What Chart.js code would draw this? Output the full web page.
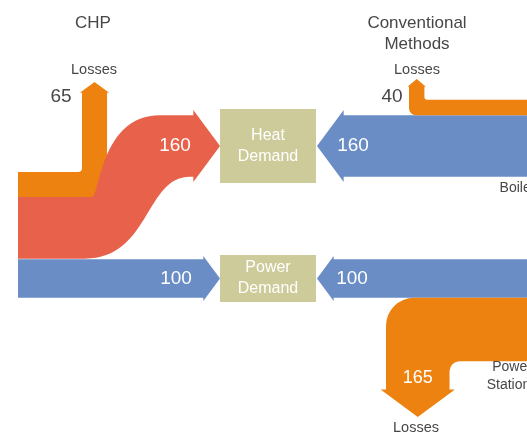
<!DOCTYPE html>
<html>
<head>
<meta charset="utf-8">
<script src="https://cdn.jsdelivr.net/npm/chart.js@4.4.1/dist/chart.umd.min.js"></script>
<style>
    html, body { margin: 0; padding: 0; background: #fff; }
    #wrap { width: 527px; height: 433px; position: relative; }
</style>
</head>
<body>
<div id="wrap"><canvas id="sankey"></canvas></div>
<script>
// Data: flows per source (values as printed)
const chpFlows = ['Losses', 'Heat Demand', 'Power Demand'];
const chpValues = [65, 160, 100];
const boilerFlows = ['Losses', 'Heat Demand'];
const boilerValues = [40, 160];
const stationFlows = ['Power Demand', 'Losses'];
const stationValues = [100, 165];
const demandLabels = [['Heat', 'Demand'], ['Power', 'Demand']];
const sourceTitles = [['CHP'], ['Conventional', 'Methods']];

// Colours
const ORANGE = '#ee8210';
const RED = '#e8614b';
const BLUE = '#6a8dc5';
const KHAKI = '#cdcb99';
const TEXT = '#474747';

const K = 0.385; // band thickness per unit of value
const th = v => v * K;
const head = t => {
    const e = Math.max(1.5, t * 0.085);
    return { e: e, len: (t + 2 * e) * 0.37 };
};

const FONT = '"Liberation Sans", Arial, Helvetica, sans-serif';

function drawSankey(chart) {
    const ctx = chart.ctx;
    const xs = chart.scales.x, ys = chart.scales.y;
    const X = v => xs.getPixelForValue(v);
    const Y = v => ys.getPixelForValue(v);

    function shape(color, build) {
        ctx.beginPath();
        build({
            m: (x, y) => ctx.moveTo(X(x), Y(y)),
            l: (x, y) => ctx.lineTo(X(x), Y(y)),
            c: (a, b, c2, d, x, y) => ctx.bezierCurveTo(X(a), Y(b), X(c2), Y(d), X(x), Y(y)),
            r: (a, b, x, y, rad) => ctx.arcTo(X(a), Y(b), X(x), Y(y), rad)
        });
        ctx.closePath();
        ctx.fillStyle = color;
        ctx.fill();
    }

    function text(lines, x, y, size, color, gap) {
        ctx.fillStyle = color;
        ctx.font = size + 'px ' + FONT;
        ctx.textAlign = 'center';
        ctx.textBaseline = 'middle';
        lines.forEach((s, i) => ctx.fillText(s, X(x), Y(y + i * (gap || 0))));
    }

    const LEFT = xs.min + 18, RIGHT = xs.max;
    const boxX0 = 220, boxX1 = 316;
    const heatMid = 146, powerMid = 278.5;

    // --- CHP side ---
    const chpTop = 172;
    const tLoss = th(chpValues[0]);
    const tHeat = th(chpValues[1]);
    const tPow = th(chpValues[2]);

    // losses (orange, up)
    {
        const y0 = chpTop, y1 = chpTop + tLoss;
        const x0 = 82, x1 = x0 + tLoss;
        const h = head(tLoss), tip = 82, base = tip + h.len;
        shape(ORANGE, p => {
            p.m(LEFT, y0);
            p.r(x0, y0, x0, base, 4);
            p.l(x0, base);
            p.l(x0 - h.e, base);
            p.l((x0 + x1) / 2, tip);
            p.l(x1 + h.e, base);
            p.l(x1, base);
            p.l(x1, y1);
            p.l(LEFT, y1);
        });
        text([String(chpValues[0])], 61, 97, 19, TEXT);
        text(['Losses'], 94, 70, 14.5, TEXT);
    }

    // heat (red S-curve)
    {
        const a0 = chpTop + tLoss, a1 = a0 + tHeat;
        const b0 = heatMid - tHeat / 2, b1 = heatMid + tHeat / 2;
        const h = head(tHeat), tip = boxX0, base = tip - h.len;
        shape(RED, p => {
            p.m(LEFT, a0);
            p.l(92, a0);
            p.c(100, a0, 100, b0, 160, b0);
            p.l(base, b0);
            p.l(base, b0 - h.e);
            p.l(tip, heatMid);
            p.l(base, b1 + h.e);
            p.l(base, b1);
            p.l(190, b1);
            p.c(145, b1, 150, a1, 85, a1);
            p.l(LEFT, a1);
        });
        text([String(chpValues[1])], 175, heatMid, 19, '#ffffff');
    }

    // power (blue, right)
    {
        const y0 = powerMid - tPow / 2, y1 = powerMid + tPow / 2;
        const h = head(tPow), tip = boxX0, base = tip - h.len;
        shape(BLUE, p => {
            p.m(LEFT, y0);
            p.l(base, y0);
            p.l(base, y0 - h.e);
            p.l(tip, powerMid);
            p.l(base, y1 + h.e);
            p.l(base, y1);
            p.l(LEFT, y1);
        });
        text([String(chpValues[2])], 176, powerMid, 19, '#ffffff');
    }

    // --- Conventional side: boilers ---
    const tBLoss = th(boilerValues[0]);
    const tBHeat = th(boilerValues[1]);
    {
        const y0 = heatMid - tBHeat / 2, y1 = heatMid + tBHeat / 2;
        const h = head(tBHeat), tip = boxX1 + 1, base = tip + h.len;
        shape(BLUE, p => {
            p.m(RIGHT, y0);
            p.l(base, y0);
            p.l(base, y0 - h.e);
            p.l(tip, heatMid);
            p.l(base, y1 + h.e);
            p.l(base, y1);
            p.l(RIGHT, y1);
        });
        text([String(boilerValues[1])], 353, heatMid, 19, '#ffffff');
    }
    {
        const y1 = heatMid - tBHeat / 2, y0 = y1 - tBLoss;
        const x0 = 409, x1 = x0 + tBLoss;
        const h = head(tBLoss), tip = 79, base = tip + h.len + 1;
        shape(ORANGE, p => {
            p.m(RIGHT, y0);
            p.r(x1, y0, x1, base, 3);
            p.l(x1, base);
            p.l(x1 + h.e, base);
            p.l((x0 + x1) / 2, tip);
            p.l(x0 - h.e, base);
            p.l(x0, base);
            p.r(x0, y1, RIGHT, y1, 7);
            p.l(RIGHT, y1);
        });
        text([String(boilerValues[0])], 392, 97, 19, TEXT);
        text(['Losses'], 417, 70, 14.5, TEXT);
    }

    // --- Conventional side: power stations ---
    const tSPow = th(stationValues[0]);
    const tSLoss = th(stationValues[1]);
    {
        const y0 = powerMid - tSPow / 2, y1 = powerMid + tSPow / 2;
        const h = head(tSPow), tip = boxX1 + 1, base = tip + h.len;
        shape(BLUE, p => {
            p.m(RIGHT, y0);
            p.l(base, y0);
            p.l(base, y0 - h.e);
            p.l(tip, powerMid);
            p.l(base, y1 + h.e);
            p.l(base, y1);
            p.l(RIGHT, y1);
        });
        text([String(stationValues[0])], 352, powerMid, 19, '#ffffff');
    }
    {
        const y0 = powerMid + tSPow / 2, y1 = y0 + tSLoss;
        const x0 = 386, x1 = x0 + tSLoss;
        const h = head(tSLoss), tip = 417, base = tip - h.len;
        shape(ORANGE, p => {
            p.m(RIGHT, y0);
            p.r(x0, y0, x0, base, 28);
            p.l(x0, base);
            p.l(x0 - h.e, base);
            p.l((x0 + x1) / 2, tip);
            p.l(x1 + h.e, base);
            p.l(x1, base);
            p.r(x1, y1, RIGHT, y1, 10);
            p.l(RIGHT, y1);
        });
        text([String(stationValues[1])], (x0 + x1) / 2, 378, 18, '#ffffff');
        text(['Losses'], 416, 428, 14.5, TEXT);
    }

    // --- demand boxes ---
    [[heatMid, tHeat], [powerMid, tPow]].forEach(([mid, t], i) => {
        const half = t / 2 + head(t).e + 1;
        shape(KHAKI, p => {
            p.m(boxX0, mid - half);
            p.l(boxX1, mid - half);
            p.l(boxX1, mid + half);
            p.l(boxX0, mid + half);
        });
        text(demandLabels[i], (boxX0 + boxX1) / 2, mid - 10.5, 16, '#ffffff', 21);
    });

    // --- titles and source labels ---
    text(sourceTitles[0], 93, 23, 17, TEXT);
    text(sourceTitles[1], 417, 23, 17, TEXT, 21);
    text(['Boilers'], 521, 188, 14, TEXT);
    text(['Power', 'Stations'], 512, 367, 14, TEXT, 18);
}

const ctx = document.getElementById('sankey').getContext('2d');
const sankeyChart = new Chart(ctx, {
    type: 'scatter',
    data: { datasets: [{ data: [] }] },
    options: {
        responsive: true,
        maintainAspectRatio: false,
        animation: false,
        layout: { padding: 0 },
        plugins: { legend: { display: false }, tooltip: { enabled: false } },
        scales: {
            x: { type: 'linear', min: 0, max: 527, display: false },
            y: { type: 'linear', min: 0, max: 433, reverse: true, display: false }
        }
    },
    plugins: [{ id: 'sankeyFlows', afterDraw: drawSankey }]
});
</script>
</body>
</html>
